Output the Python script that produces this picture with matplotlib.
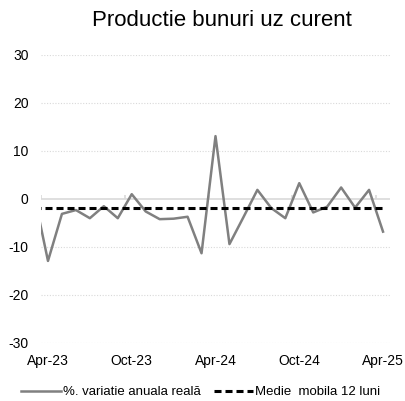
import numpy as np
import matplotlib.pyplot as plt

plt.rcParams['font.family'] = ['Liberation Sans', 'DejaVu Sans']

# luni (Mar-23 e inainte de inceputul axei, se vede doar taiat)
luni = ['Mar-23', 'Apr-23', 'May-23', 'Jun-23', 'Jul-23', 'Aug-23', 'Sep-23',
        'Oct-23', 'Nov-23', 'Dec-23', 'Jan-24', 'Feb-24', 'Mar-24', 'Apr-24',
        'May-24', 'Jun-24', 'Jul-24', 'Aug-24', 'Sep-24', 'Oct-24', 'Nov-24',
        'Dec-24', 'Jan-25', 'Feb-25', 'Mar-25', 'Apr-25']
variatie = [1.0, -12.9, -3.1, -2.3, -4.0, -1.5, -4.0, 1.0, -2.6, -4.2, -4.1,
            -3.7, -11.3, 13.1, -9.4, -3.8, 1.9, -1.9, -4.0, 3.3, -2.8, -1.6,
            2.4, -1.8, 1.9, -6.8]
medie_mobila = [-1.9] * len(luni)
etichete_x = ['Apr-23', 'Oct-23', 'Apr-24', 'Oct-24', 'Apr-25']

xx = np.arange(len(luni)) - 1

fig = plt.figure(figsize=(4.06, 4.01), dpi=100)
ax = fig.add_axes([41/406, 1 - 343/401, 349/406, 288/401])

for v in [-30, -20, -10, 10, 20, 30]:
    ax.axhline(v, color='#d9d9d9', lw=0.8, ls=(0, (1, 1.5)), zorder=0)
ax.axhline(0, color='#d9d9d9', lw=1.2, zorder=1)
ax.vlines([-0.5, 5.5, 11.5, 17.5, 23.5], 0, 0.8, color='#d9d9d9', lw=1.2, zorder=1)

ax.plot(xx, variatie, color='#808080', lw=1.8, label='%. variatie anuala reală', zorder=3)
ax.plot(xx, medie_mobila, color='black', lw=2.2, ls=(0, (2.3, 1.3)),
        label='Medie  mobila 12 luni', zorder=4)

ax.set_xlim(-0.5, 24.5)
ax.set_ylim(-30, 30)
ax.set_yticks([-30, -20, -10, 0, 10, 20, 30])
ax.set_yticklabels(['-30', '-20', '-10', '0', '10', '20', '30'])
ax.set_xticks([luni.index(e) - 1 for e in etichete_x])
ax.set_xticklabels(etichete_x)
ax.tick_params(axis='both', length=0, labelsize=10, colors='#000000')
ax.tick_params(axis='y', pad=9)
ax.tick_params(axis='x', pad=8)
for s in ax.spines.values():
    s.set_visible(False)

fig.text(222/406, 1 - 20/401, 'Productie bunuri uz curent', fontsize=16,
         ha='center', va='center')

fig.legend(loc='center', bbox_to_anchor=(201/406, 1 - 392/401), ncol=2,
           frameon=False, fontsize=9.5, handlelength=3.0, handletextpad=0.15,
           columnspacing=1.0, borderpad=0)

fig.savefig('out.png', dpi=100)
